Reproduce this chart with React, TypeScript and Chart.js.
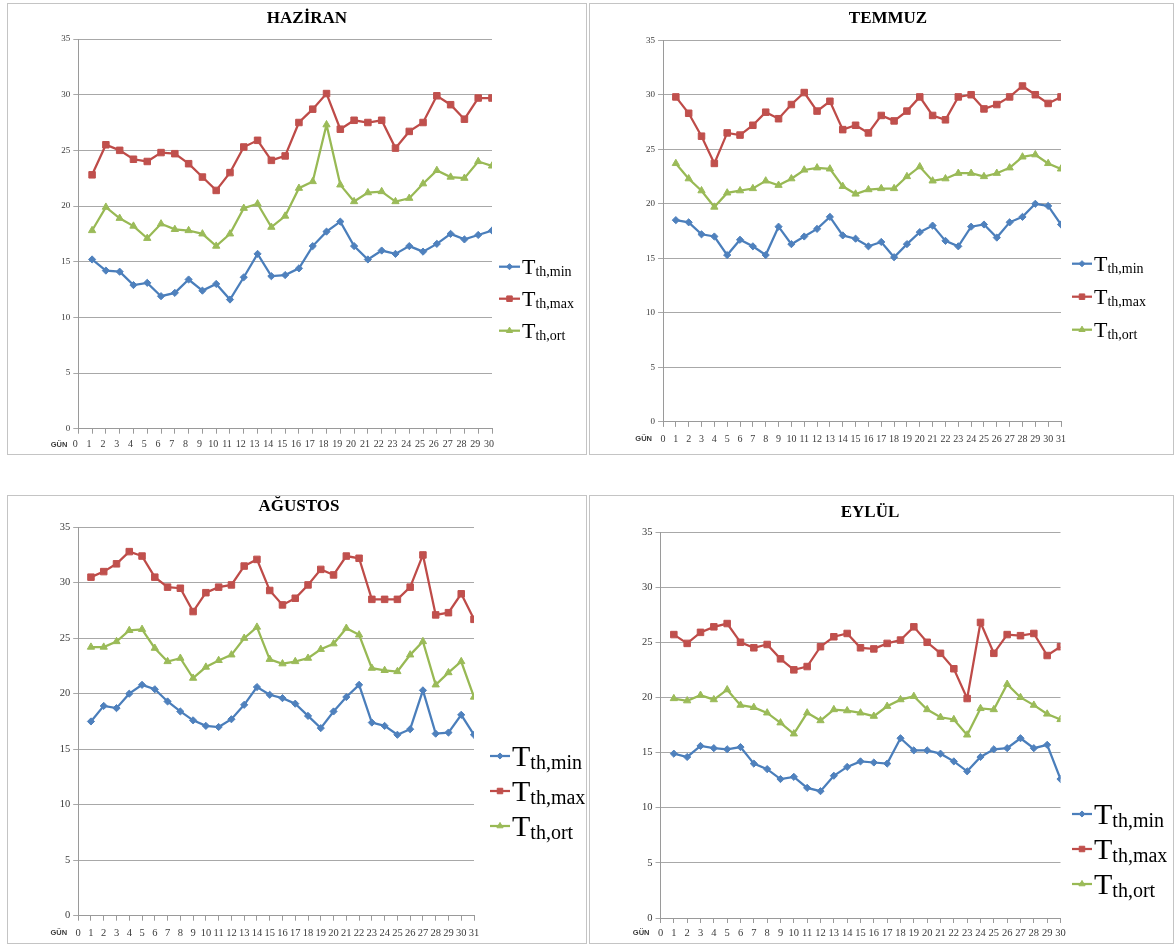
import React, { useEffect, useRef } from "react";
import { Chart, registerables } from "chart.js";

Chart.register(...registerables);

// ---------------- DATA ----------------
const DAYS_30 = [1, 2, 3, 4, 5, 6, 7, 8, 9, 10, 11, 12, 13, 14, 15, 16, 17, 18, 19, 20, 21, 22, 23, 24, 25, 26, 27, 28, 29, 30];
const DAYS_31 = [1, 2, 3, 4, 5, 6, 7, 8, 9, 10, 11, 12, 13, 14, 15, 16, 17, 18, 19, 20, 21, 22, 23, 24, 25, 26, 27, 28, 29, 30, 31];

const SERIES_NAMES = ["th,min", "th,max", "th,ort"];

const HAZIRAN_MIN = [15.2, 14.2, 14.1, 12.9, 13.1, 11.9, 12.2, 13.4, 12.4, 13.0, 11.6, 13.6, 15.7, 13.7, 13.8, 14.4, 16.4, 17.7, 18.6, 16.4, 15.2, 16.0, 15.7, 16.4, 15.9, 16.6, 17.5, 17.0, 17.4, 17.8];
const HAZIRAN_MAX = [22.8, 25.5, 25.0, 24.2, 24.0, 24.8, 24.7, 23.8, 22.6, 21.4, 23.0, 25.3, 25.9, 24.1, 24.5, 27.5, 28.7, 30.1, 26.9, 27.7, 27.5, 27.7, 25.2, 26.7, 27.5, 29.9, 29.1, 27.8, 29.7, 29.7];
const HAZIRAN_ORT = [17.8, 19.9, 18.9, 18.2, 17.1, 18.4, 17.9, 17.8, 17.5, 16.4, 17.5, 19.8, 20.2, 18.1, 19.1, 21.6, 22.2, 27.3, 21.9, 20.4, 21.2, 21.3, 20.4, 20.7, 22.0, 23.2, 22.6, 22.5, 24.0, 23.6];

const TEMMUZ_MIN = [18.5, 18.3, 17.2, 17.0, 15.3, 16.7, 16.1, 15.3, 17.9, 16.3, 17.0, 17.7, 18.8, 17.1, 16.8, 16.1, 16.5, 15.1, 16.3, 17.4, 18.0, 16.6, 16.1, 17.9, 18.1, 16.9, 18.3, 18.8, 20.0, 19.8, 18.1];
const TEMMUZ_MAX = [29.8, 28.3, 26.2, 23.7, 26.5, 26.3, 27.2, 28.4, 27.8, 29.1, 30.2, 28.5, 29.4, 26.8, 27.2, 26.5, 28.1, 27.6, 28.5, 29.8, 28.1, 27.7, 29.8, 30.0, 28.7, 29.1, 29.8, 30.8, 30.0, 29.2, 29.8];
const TEMMUZ_ORT = [23.7, 22.3, 21.2, 19.7, 21.0, 21.2, 21.4, 22.1, 21.7, 22.3, 23.1, 23.3, 23.2, 21.6, 20.9, 21.3, 21.4, 21.4, 22.5, 23.4, 22.1, 22.3, 22.8, 22.8, 22.5, 22.8, 23.3, 24.3, 24.5, 23.7, 23.2];

const AGUSTOS_MIN = [17.5, 18.9, 18.7, 20.0, 20.8, 20.4, 19.3, 18.4, 17.6, 17.1, 17.0, 17.7, 19.0, 20.6, 19.9, 19.6, 19.1, 18.0, 16.9, 18.4, 19.7, 20.8, 17.4, 17.1, 16.3, 16.8, 20.3, 16.4, 16.5, 18.1, 16.3];
const AGUSTOS_MAX = [30.5, 31.0, 31.7, 32.8, 32.4, 30.5, 29.6, 29.5, 27.4, 29.1, 29.6, 29.8, 31.5, 32.1, 29.3, 28.0, 28.6, 29.8, 31.2, 30.7, 32.4, 32.2, 28.5, 28.5, 28.5, 29.6, 32.5, 27.1, 27.3, 29.0, 26.7];
const AGUSTOS_ORT = [24.2, 24.2, 24.7, 25.7, 25.8, 24.1, 22.9, 23.2, 21.4, 22.4, 23.0, 23.5, 25.0, 26.0, 23.1, 22.7, 22.9, 23.2, 24.0, 24.5, 25.9, 25.3, 22.3, 22.1, 22.0, 23.5, 24.7, 20.8, 21.9, 22.9, 19.7];

const EYLUL_MIN = [14.9, 14.6, 15.6, 15.4, 15.3, 15.5, 14.0, 13.5, 12.6, 12.8, 11.8, 11.5, 12.9, 13.7, 14.2, 14.1, 14.0, 16.3, 15.2, 15.2, 14.9, 14.2, 13.3, 14.6, 15.3, 15.4, 16.3, 15.4, 15.7, 12.6];
const EYLUL_MAX = [25.7, 24.9, 25.9, 26.4, 26.7, 25.0, 24.5, 24.8, 23.5, 22.5, 22.8, 24.6, 25.5, 25.8, 24.5, 24.4, 24.9, 25.2, 26.4, 25.0, 24.0, 22.6, 19.9, 26.8, 24.0, 25.7, 25.6, 25.8, 23.8, 24.6];
const EYLUL_ORT = [19.9, 19.7, 20.2, 19.8, 20.7, 19.3, 19.1, 18.6, 17.7, 16.7, 18.6, 17.9, 18.9, 18.8, 18.6, 18.3, 19.2, 19.8, 20.1, 18.9, 18.2, 18.0, 16.6, 19.0, 18.9, 21.2, 20.0, 19.3, 18.5, 18.0];

// ---------------- STYLE ----------------
const LINE_COLORS = ["#4a7ebb", "#be4b48", "#98b954"];
const POINT_COLORS = ["#4f81bd", "#c0504d", "#9bbb59"];
const POINT_STYLES = ["rectRot", "rect", "triangle"];
const POINT_RADII = [3.6, 4.6, 4.2];
const GRID = "#a8a8a8";
const AXIS = "#9a9a9a";
const TEXT = "#3a3a3a";
const SERIF = '"Liberation Serif", "Times New Roman", serif';
const SANS = '"Liberation Sans", Arial, sans-serif';

type PanelCfg = {
  title: string;
  days: number[];
  series: number[][];
  xMax: number;
  box: { l: number; t: number; w: number; h: number };
  area: { left: number; top: number; right: number; bottom: number };
  titleX: number;
  titleY: number;
  legend: { x: number; y: number; gap: number; tSize: number; subSize: number; lineLen: number };
  yFont: number;
  xFont: number;
  xPad: number;
  xLabelOffset: number;
};

const PANELS: PanelCfg[] = [
  {
    title: "HAZİRAN",
    days: DAYS_30,
    series: [HAZIRAN_MIN, HAZIRAN_MAX, HAZIRAN_ORT],
    xMax: 30,
    box: { l: 7, t: 3, w: 580, h: 452 },
    area: { left: 71.3, top: 36, right: 485, bottom: 425.7 },
    titleX: 300,
    titleY: 16,
    legend: { x: 492, y: 263.7, gap: 32, tSize: 22, subSize: 14, lineLen: 21 },
    yFont: 9,
    xFont: 10,
    xPad: 5,
    xLabelOffset: -3,
  },
  {
    title: "TEMMUZ",
    days: DAYS_31,
    series: [TEMMUZ_MIN, TEMMUZ_MAX, TEMMUZ_ORT],
    xMax: 31,
    box: { l: 589, t: 3, w: 585, h: 452 },
    area: { left: 74, top: 37.2, right: 472, bottom: 418.9 },
    titleX: 299,
    titleY: 16,
    legend: { x: 483, y: 260.7, gap: 33, tSize: 22, subSize: 14, lineLen: 20 },
    yFont: 9,
    xFont: 10,
    xPad: 6,
    xLabelOffset: 0,
  },
  {
    title: "AĞUSTOS",
    days: DAYS_31,
    series: [AGUSTOS_MIN, AGUSTOS_MAX, AGUSTOS_ORT],
    xMax: 31,
    box: { l: 7, t: 495, w: 580, h: 449 },
    area: { left: 71.2, top: 32.2, right: 467, bottom: 420.7 },
    titleX: 292,
    titleY: 12,
    legend: { x: 483, y: 261, gap: 35, tSize: 30, subSize: 20, lineLen: 20 },
    yFont: 10.5,
    xFont: 10.5,
    xPad: 6,
    xLabelOffset: 0,
  },
  {
    title: "EYLÜL",
    days: DAYS_30,
    series: [EYLUL_MIN, EYLUL_MAX, EYLUL_ORT],
    xMax: 30,
    box: { l: 589, t: 495, w: 585, h: 449 },
    area: { left: 71.5, top: 37, right: 471.5, bottom: 423 },
    titleX: 281,
    titleY: 18,
    legend: { x: 483, y: 319, gap: 35, tSize: 30, subSize: 20, lineLen: 20 },
    yFont: 10.5,
    xFont: 10.5,
    xPad: 4,
    xLabelOffset: 0,
  },
];

const X_AXIS_H = 22;

function drawMarker(ctx: CanvasRenderingContext2D, style: string, x: number, y: number, r: number) {
  ctx.beginPath();
  if (style === "rectRot") {
    ctx.moveTo(x - r, y);
    ctx.lineTo(x, y - r);
    ctx.lineTo(x + r, y);
    ctx.lineTo(x, y + r);
    ctx.closePath();
  } else if (style === "rect") {
    const s = r * Math.SQRT1_2;
    ctx.rect(x - s, y - s, 2 * s, 2 * s);
  } else {
    let a = 0;
    ctx.moveTo(x + Math.sin(a) * r, y - Math.cos(a) * r);
    a += (2 * Math.PI) / 3;
    ctx.lineTo(x + Math.sin(a) * r, y - Math.cos(a) * r);
    a += (2 * Math.PI) / 3;
    ctx.lineTo(x + Math.sin(a) * r, y - Math.cos(a) * r);
    ctx.closePath();
  }
  ctx.fill();
  ctx.stroke();
}

function makeOverlay(cfg: PanelCfg) {
  return {
    id: "overlay",
    afterDraw(chart: any) {
      const ctx: CanvasRenderingContext2D = chart.ctx;
      const ca = chart.chartArea;
      ctx.save();
      // title
      ctx.fillStyle = "#000";
      ctx.font = `bold 17px ${SERIF}`;
      ctx.textAlign = "center";
      ctx.textBaseline = "middle";
      ctx.fillText(cfg.title, cfg.titleX, cfg.titleY);
      // GÜN label
      const ly = ca.bottom + 5 + cfg.xPad + cfg.xFont * 0.6;
      ctx.font = `bold 7.5px ${SANS}`;
      ctx.textAlign = "right";
      ctx.fillStyle = TEXT;
      ctx.fillText("GÜN", ca.left - 11, ly);
      // legend
      const lg = cfg.legend;
      for (let i = 0; i < 3; i++) {
        const y = lg.y + i * lg.gap;
        ctx.strokeStyle = LINE_COLORS[i];
        ctx.lineWidth = 2.25;
        ctx.beginPath();
        ctx.moveTo(lg.x, y);
        ctx.lineTo(lg.x + lg.lineLen, y);
        ctx.stroke();
        ctx.fillStyle = POINT_COLORS[i];
        ctx.strokeStyle = POINT_COLORS[i];
        ctx.lineWidth = 1;
        drawMarker(ctx, POINT_STYLES[i], lg.x + lg.lineLen / 2, y, POINT_RADII[i] * 0.85);
        ctx.fillStyle = "#000";
        ctx.textAlign = "left";
        ctx.textBaseline = "alphabetic";
        ctx.font = `${lg.tSize}px ${SERIF}`;
        const tx = lg.x + lg.lineLen + 2;
        const base = y + lg.tSize * 0.34;
        ctx.fillText("T", tx, base);
        const tw = ctx.measureText("T").width;
        ctx.font = `${lg.subSize}px ${SERIF}`;
        ctx.fillText(SERIES_NAMES[i], tx + tw, base + lg.tSize * 0.1);
      }
      ctx.restore();
    },
  };
}

function Panel({ cfg }: { cfg: PanelCfg }) {
  const ref = useRef<HTMLCanvasElement>(null);
  useEffect(() => {
    const canvas = ref.current!;
    const datasets = cfg.series.map((vals, i) => ({
      label: "T" + SERIES_NAMES[i],
      data: cfg.days.map((d, k) => ({ x: d, y: vals[k] })),
      borderColor: LINE_COLORS[i],
      backgroundColor: POINT_COLORS[i],
      pointBackgroundColor: POINT_COLORS[i],
      pointBorderColor: POINT_COLORS[i],
      pointStyle: POINT_STYLES[i],
      pointRadius: POINT_RADII[i],
      pointBorderWidth: 1,
      borderWidth: 2.25,
      tension: 0,
      fill: false,
    }));
    const chart = new Chart(canvas, {
      type: "line",
      data: { datasets } as any,
      options: {
        animation: false,
        responsive: false,
        events: [],
        layout: {
          padding: {
            left: 0,
            top: cfg.area.top,
            right: cfg.box.w - cfg.area.right,
            bottom: cfg.box.h - cfg.area.bottom - X_AXIS_H,
          },
        },
        plugins: {
          legend: { display: false },
          title: { display: false },
          tooltip: { enabled: false },
        },
        scales: {
          x: {
            type: "linear",
            min: 0,
            max: cfg.xMax,
            afterFit: (s: any) => {
              s.height = X_AXIS_H;
            },
            ticks: {
              stepSize: 1,
              autoSkip: false,
              maxRotation: 0,
              minRotation: 0,
              padding: cfg.xPad,
              labelOffset: cfg.xLabelOffset,
              color: TEXT,
              font: { family: SERIF, size: cfg.xFont },
            },
            grid: { drawOnChartArea: false, drawTicks: true, tickLength: 5, color: AXIS },
            border: { color: AXIS, width: 1 },
          },
          y: {
            min: 0,
            max: 35,
            afterFit: (s: any) => {
              s.width = cfg.area.left;
            },
            ticks: {
              stepSize: 5,
              padding: 3,
              color: TEXT,
              font: { family: SERIF, size: cfg.yFont },
            },
            grid: { color: GRID, lineWidth: 1, drawTicks: true, tickLength: 5 },
            border: { color: AXIS, width: 1 },
          },
        },
      } as any,
      plugins: [makeOverlay(cfg)],
    });
    return () => chart.destroy();
  }, [cfg]);

  return (
    <>
      <div
        style={{
          position: "absolute",
          left: cfg.box.l,
          top: cfg.box.t,
          width: cfg.box.w,
          height: cfg.box.h,
          border: "1px solid #c4c4c4",
          boxSizing: "border-box",
          background: "#fff",
        }}
      />
      <canvas
        ref={ref}
        width={cfg.box.w}
        height={cfg.box.h}
        style={{ position: "absolute", left: cfg.box.l, top: cfg.box.t, width: cfg.box.w, height: cfg.box.h }}
      />
    </>
  );
}

export default function App() {
  return (
    <div style={{ position: "fixed", left: 0, top: 0, width: 1176, height: 946, background: "#fff", overflow: "hidden" }}>
      {PANELS.map((p) => (
        <Panel key={p.title} cfg={p} />
      ))}
    </div>
  );
}
